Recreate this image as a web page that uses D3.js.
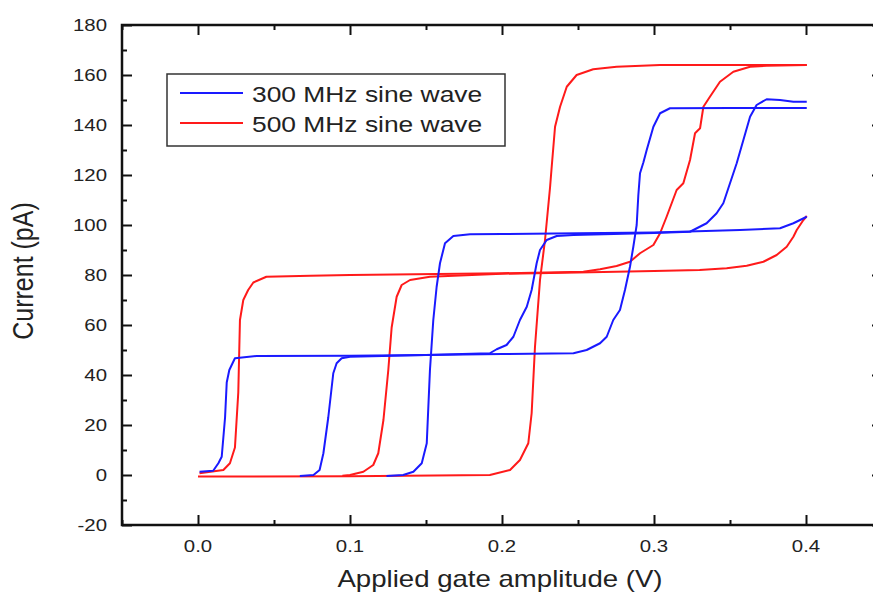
<!DOCTYPE html>
<html>
<head>
<meta charset="utf-8">
<script src="https://cdn.jsdelivr.net/npm/d3@7"></script>
<style>
  body { margin: 0; background: #fff; }
  text { font-family: "Liberation Sans", Arial, sans-serif; fill: #222; }
</style>
</head>
<body>
<div id="chart"></div>
<script>
// tick values
const xMajor = [0.0, 0.1, 0.2, 0.3, 0.4];
const xMinor = [-0.05, 0.05, 0.15, 0.25, 0.35, 0.45];
const yMajor = [-20, 0, 20, 40, 60, 80, 100, 120, 140, 160, 180];
const yMinor = [-10, 10, 30, 50, 70, 90, 110, 130, 150, 170];
const seriesNames = ["300 MHz sine wave", "500 MHz sine wave"];

// 300 MHz sweeps [amplitude V, current pA]
const blueSweepA = [[0.001,1.3],[0.010,1.7],[0.0134,4.7],[0.0156,7.3],[0.0178,23],[0.0189,37],[0.0206,42],[0.0243,46.7],
  [0.0386,47.6],[0.1,47.7],[0.15,48.0],[0.2,48.4],[0.247,48.7],[0.2557,50],[0.2645,52.7],[0.2689,55.3],[0.2732,62],
  [0.2776,66],[0.2809,74],[0.2842,83.3],[0.2864,91.3],[0.2886,100],[0.2897,112],[0.2908,120.7],[0.293,125],[0.2952,130],
  [0.2996,139.3],[0.304,144.7],[0.3105,146.7],[0.35,146.8],[0.4005,146.8]];
const blueSweepB = [[0.067,-0.4],[0.076,0],[0.080,2],[0.0825,8.7],[0.0857,23],[0.089,40.7],[0.0912,44.7],[0.0945,46.7],
  [0.1,47.3],[0.15,48],[0.192,48.7],[0.1965,50.3],[0.203,52],[0.2075,55.3],[0.2118,62],[0.2163,67.3],[0.2195,74],
  [0.2228,84.7],[0.225,90],[0.2294,94],[0.236,95.6],[0.247,96],[0.3,96.8],[0.3237,97.3],[0.3346,100.7],[0.3412,104.7],
  [0.3456,108.7],[0.35,116.7],[0.3544,124.7],[0.3588,134],[0.3632,143.3],[0.3675,148],[0.3741,150.3],[0.3829,150],
  [0.3917,149.3],[0.4005,149.3]];
const blueSweepC = [[0.124,-0.4],[0.135,0],[0.1417,1.3],[0.1472,4.7],[0.1505,12.7],[0.1526,42],[0.1548,62],[0.157,75.3],
  [0.1592,84.7],[0.1625,92.7],[0.168,95.6],[0.179,96.3],[0.2,96.4],[0.25,96.7],[0.3,97],[0.3566,98],[0.3829,98.7],
  [0.3917,100.7],[0.4005,103.3]];

// 500 MHz sweeps
const redSweepA = [[0.001,0.7],[0.0167,2],[0.021,4.7],[0.0243,11],[0.0265,33],[0.0276,62],[0.0298,70],[0.033,74],
  [0.0364,77],[0.045,79.3],[0.074,79.7],[0.1,80],[0.2,80.7],[0.2535,81.3],[0.2645,82.3],[0.2754,83.6],[0.2842,85.3],
  [0.2908,88.7],[0.2996,92],[0.304,96.7],[0.3083,103.3],[0.3149,114],[0.3193,116.7],[0.3237,126],[0.327,136.7],
  [0.3303,138.7],[0.3325,147.3],[0.3368,151.3],[0.3434,157.3],[0.3522,161.3],[0.3632,163.3],[0.3741,163.7],[0.4005,164]];
const redSweepB = [[0.095,-0.3],[0.1,0],[0.1088,1.3],[0.1153,4],[0.1186,8.7],[0.122,22],[0.1252,42],[0.1274,59],
  [0.1307,71.3],[0.134,76],[0.1395,78],[0.1526,79.3],[0.2,80.5],[0.25,81],[0.3,81.6],[0.33,82],[0.3478,82.7],
  [0.361,83.7],[0.372,85.3],[0.3807,88],[0.3873,91.3],[0.3917,95.3],[0.3939,98],[0.3983,102],[0.4005,103.6]];
const redSweepC = [[0.0,-0.6],[0.1,-0.5],[0.192,0],[0.2053,2],[0.2118,6],[0.2173,12.7],[0.2195,24.7],[0.2217,51.3],
  [0.225,78],[0.2283,94],[0.2305,108],[0.2316,115],[0.2327,123.3],[0.2349,139.3],[0.2382,147.3],[0.2426,155.3],
  [0.2491,160],[0.26,162.3],[0.2754,163.3],[0.304,164],[0.4005,164]];

const W = 873, H = 594;
const margin = { top: 25, left: 122 };
const plotW = 760, plotH = 500;

const svg = d3.select("#chart").append("svg")
    .attr("width", W)
    .attr("height", H);

const x = d3.scaleLinear().domain([-0.05, 0.45]).range([margin.left, margin.left + plotW]);
const y = d3.scaleLinear().domain([-20, 180]).range([margin.top + plotH, margin.top]);

// curves
const line = d3.line().x(d => x(d[0])).y(d => y(d[1]));
const curves = [
  { data: redSweepC, color: "#ff1a1a" },
  { data: redSweepB, color: "#ff1a1a" },
  { data: redSweepA, color: "#ff1a1a" },
  { data: blueSweepA, color: "#1a1aff" },
  { data: blueSweepB, color: "#1a1aff" },
  { data: blueSweepC, color: "#1a1aff" }
];
svg.append("g").selectAll("path")
    .data(curves)
    .enter().append("path")
    .attr("d", d => line(d.data))
    .attr("fill", "none")
    .attr("stroke", d => d.color)
    .attr("stroke-width", 2)
    .attr("stroke-linejoin", "round");

// ticks (inward) on all four sides
function ticks(axis, vals, size, pos) {
  svg.append("g")
      .attr("transform", pos)
      .call(axis.tickValues(vals).tickSizeInner(size).tickSizeOuter(0).tickFormat(""))
      .call(g => g.select(".domain").remove())
      .selectAll("line").attr("stroke", "#111").attr("stroke-width", 2);
}
const bottomY = y(-20), topY = y(180), leftX = x(-0.05), rightX = x(0.45);
ticks(d3.axisBottom(x), xMajor, -10, `translate(0,${bottomY})`);
ticks(d3.axisBottom(x), xMinor, -5, `translate(0,${bottomY})`);
ticks(d3.axisTop(x), xMajor, -10, `translate(0,${topY})`);
ticks(d3.axisTop(x), xMinor, -5, `translate(0,${topY})`);
ticks(d3.axisLeft(y), yMajor, -10, `translate(${leftX},0)`);
ticks(d3.axisLeft(y), yMinor, -5, `translate(${leftX},0)`);
ticks(d3.axisRight(y), yMajor, -10, `translate(${rightX},0)`);
ticks(d3.axisRight(y), yMinor, -5, `translate(${rightX},0)`);

// frame
svg.append("rect")
    .attr("x", leftX).attr("y", topY)
    .attr("width", rightX - leftX).attr("height", bottomY - topY)
    .attr("fill", "none")
    .attr("stroke", "#111")
    .attr("stroke-width", 2.5);

// tick labels (text in the picture is a bit stretched sideways)
svg.append("g").selectAll("text")
    .data(yMajor)
    .enter().append("text")
    .attr("transform", d => `translate(${leftX - 15},${y(d) + 6}) scale(1.2,1)`)
    .attr("text-anchor", "end")
    .style("font-size", "17px")
    .text(d => d);

svg.append("g").selectAll("text")
    .data(xMajor)
    .enter().append("text")
    .attr("transform", d => `translate(${x(d)},${bottomY + 27}) scale(1.2,1)`)
    .attr("text-anchor", "middle")
    .style("font-size", "17px")
    .text(d => d3.format(".1f")(d));

// axis titles
svg.append("text")
    .attr("transform", `translate(500,587) scale(1.2,1)`)
    .attr("text-anchor", "middle")
    .style("font-size", "23px")
    .text("Applied gate amplitude (V)");

svg.append("text")
    .attr("transform", `translate(33,271) scale(1.2,1) rotate(-90)`)
    .attr("text-anchor", "middle")
    .style("font-size", "25px")
    .text("Current (pA)");

// legend
const legend = svg.append("g").attr("transform", "translate(167,74)");
legend.append("rect")
    .attr("width", 338).attr("height", 72)
    .attr("fill", "#fff")
    .attr("stroke", "#333")
    .attr("stroke-width", 1.5);
const legendColors = ["#1a1aff", "#ff1a1a"];
seriesNames.forEach((name, i) => {
  const ly = 19 + i * 30;
  legend.append("line")
      .attr("x1", 13).attr("x2", 76)
      .attr("y1", ly).attr("y2", ly)
      .attr("stroke", legendColors[i])
      .attr("stroke-width", 2);
  legend.append("text")
      .attr("transform", `translate(85,${ly + 9}) scale(1.2,1)`)
      .style("font-size", "22px")
      .text(name);
});
</script>
</body>
</html>
